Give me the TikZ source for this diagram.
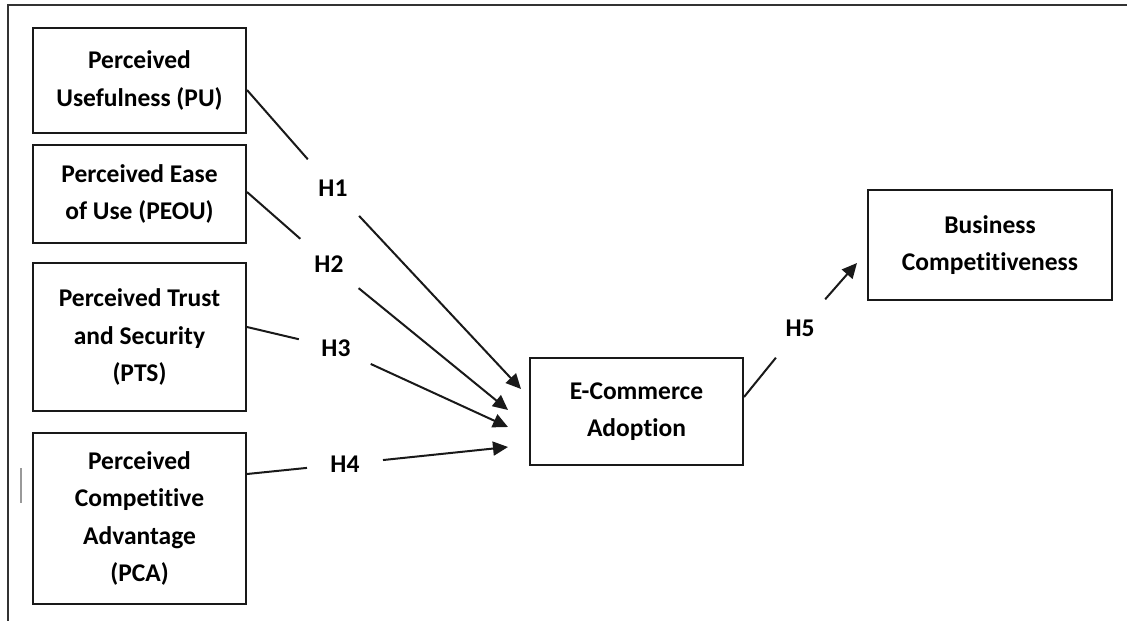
\documentclass[tikz,border=0pt]{standalone}
\usepackage{fontspec}
\setmainfont[Ligatures={NoCommon}]{Carlito}
\usetikzlibrary{arrows.meta,calc}
\begin{document}
\begin{tikzpicture}[x=1pt,y=-1pt,
  box/.style={draw=black!90,line width=2pt,rectangle,inner sep=0pt,align=center,
    font=\bfseries\fontsize{25.5}{37.5}\selectfont},
  hlab/.style={circle,minimum size=76pt,inner sep=0pt,font=\bfseries\fontsize{25.5}{30}\selectfont},
  conn/.style={line width=2pt,draw=black!90},
  arr/.style={conn,-{Triangle[length=15pt,width=14pt]}}]
\useasboundingbox (0,0) rectangle (1127,621);
% frame
\coordinate (fTL) at (8,5);
\coordinate (fTR) at (1127,5);
\coordinate (fBL) at (8,621);
\draw[line width=1.8pt,black!80] (fBL) -- (fTL) -- (fTR);
\coordinate (gA) at (21,468);
\coordinate (gB) at (21,503);
\draw[line width=1.3pt,black!40] (gA) -- (gB);
% boxes
\node[box,minimum width=213pt,minimum height=105pt] (PU) at (139.5,80.5) {Perceived\\Usefulness (PU)};
\node[box,minimum width=213pt,minimum height=98pt] (PEOU) at (139.5,194) {Perceived Ease\\of Use (PEOU)};
\node[box,minimum width=213pt,minimum height=148pt] (PTS) at (139.5,337) {Perceived Trust\\and Security\\(PTS)};
\node[box,minimum width=213pt,minimum height=171pt] (PCA) at (139.5,518.5) {Perceived\\Competitive\\Advantage\\(PCA)};
\node[box,minimum width=213pt,minimum height=107pt] (ECA) at (636.5,411.5) {E-Commerce\\Adoption};
\node[box,minimum width=244pt,minimum height=110pt] (BC) at (990,245) {Business\\Competitiveness};
% labels
\node[hlab] (H1) at (333,188) {H1};
\node[hlab] (H2) at (329,264) {H2};
\node[hlab] (H3) at (336,348) {H3};
\node[hlab] (H4) at (345,464) {H4};
\node[hlab] (H5) at (800,328) {H5};
% connectors
\draw[arr] ([yshift=-9.5pt]PU.east) -- (H1) -- ([xshift=-8pt,yshift=22.5pt]ECA.west);
\draw[arr] ([yshift=2pt]PEOU.east) -- (H2) -- ([xshift=-21pt,yshift=1.5pt]ECA.west);
\draw[arr] ([yshift=10pt]PTS.east) -- (H3) -- ([xshift=-21pt,yshift=-15.5pt]ECA.west);
\draw[arr] ([yshift=44.5pt]PCA.east) -- (H4) -- ([xshift=-21pt,yshift=-35.5pt]ECA.west);
\draw[arr] ([yshift=14.5pt]ECA.east) -- (H5) -- ([xshift=-10pt,yshift=-18pt]BC.west);
\end{tikzpicture}
\end{document}
